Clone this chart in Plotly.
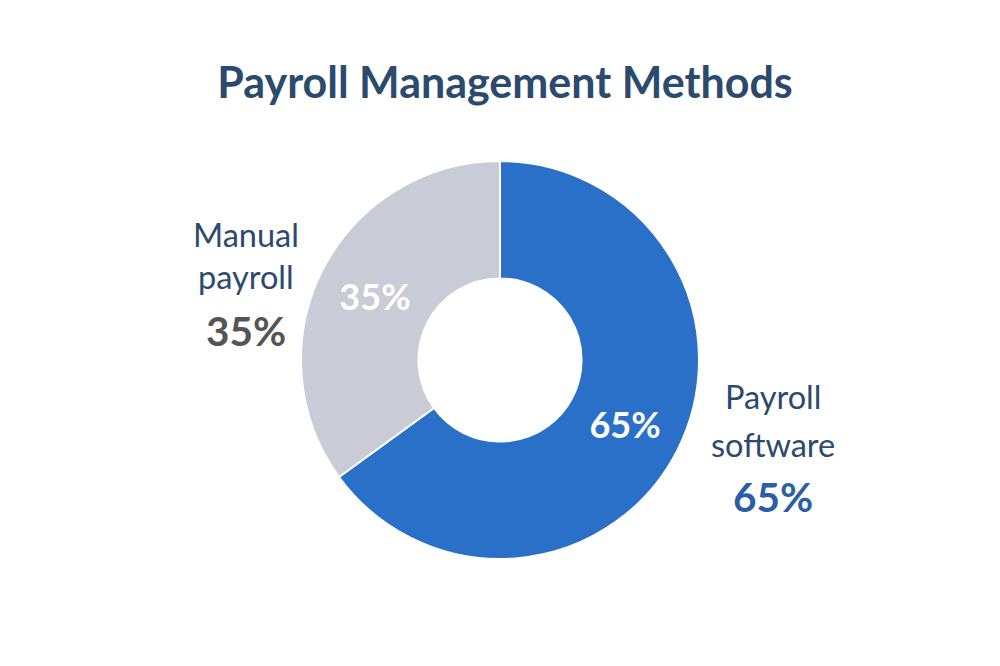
import plotly.graph_objects as go

categories = ["Payroll software", "Manual payroll"]
values = [65, 35]
label_lines = [["Payroll", "software"], ["Manual", "payroll"]]
colors = ["#2a6fc8", "#c9ccd6"]
pct_colors = ["#2a5ea6", "#555555"]

FONT = "Lato, 'Open Sans', sans-serif"
OFF = 8  # page body margin in px

cx, cy, R = 500 - OFF, 360 - OFF, 199

fig = go.Figure()
fig.add_trace(go.Pie(
    labels=categories,
    values=values,
    hole=0.41,
    sort=False,
    direction="clockwise",
    rotation=0,
    marker=dict(colors=colors, line=dict(color="white", width=2)),
    texttemplate="%{value}%",
    textposition="inside",
    insidetextorientation="horizontal",
    textfont=dict(family=FONT, size=36, color="white", weight="bold"),
    showlegend=False,
    domain=dict(x=[(cx - R) / 1000, (cx + R) / 1000],
                y=[1 - (cy + R) / 666, 1 - (cy - R) / 666]),
))

total = sum(values)
positions = [
    dict(x=773, ys=[396, 444, 496]),
    dict(x=246, ys=[235, 276, 330]),
]
for i, cat in enumerate(categories):
    pos = positions[i]
    pct = round(values[i] / total * 100)
    lines = label_lines[i]
    for j, line in enumerate(lines):
        fig.add_annotation(
            x=(pos["x"] - OFF) / 1000, y=1 - (pos["ys"][j] - OFF) / 666,
            xref="paper", yref="paper",
            text=line, showarrow=False, xanchor="center", yanchor="middle",
            font=dict(family=FONT, size=32.5, color="#2c4a6e"),
        )
    fig.add_annotation(
        x=(pos["x"] - OFF) / 1000, y=1 - (pos["ys"][2] - OFF) / 666,
        xref="paper", yref="paper",
        text=f"{pct}%", showarrow=False, xanchor="center", yanchor="middle",
        font=dict(family=FONT, size=40.5, color=pct_colors[i], weight="bold"),
    )

fig.update_layout(
    width=1000, height=666,
    margin=dict(l=0, r=0, t=0, b=0),
    paper_bgcolor="white", plot_bgcolor="white",
    title=dict(
        text="Payroll Management Methods",
        x=(505 - OFF) / 1000, xanchor="center", y=1 - (83 - OFF) / 666, yanchor="middle",
        font=dict(family=FONT, size=43, color="#2c4a6e", weight="bold"),
    ),
)

fig.write_html("out.html")
